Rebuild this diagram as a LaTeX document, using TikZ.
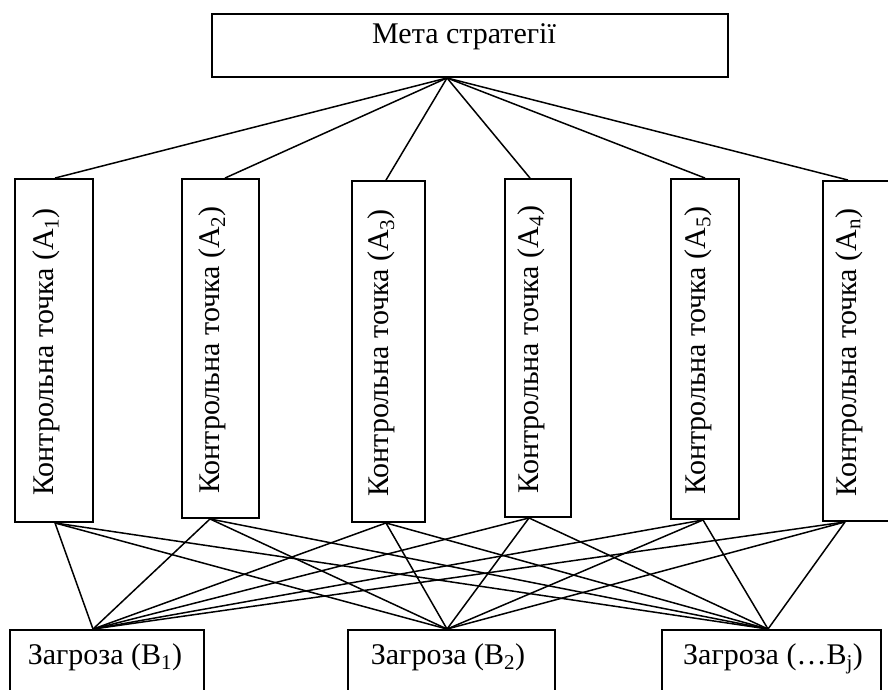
\documentclass[tikz,border=0pt]{standalone}
\usepackage{fontspec}
\setmainfont{Liberation Serif}
\begin{document}
\begin{tikzpicture}[x=1pt,y=-1pt,
  box/.style={draw, line width=1.9pt, inner sep=0pt},
  lbl/.style={font=\fontsize{30}{36}\selectfont, inner sep=0pt},
  conn/.style={line width=1.5pt}]
\useasboundingbox (0,0) rectangle (888,689);
\clip (0,0) rectangle (888,689);
% top box
\node[box, minimum width=516pt, minimum height=63pt] (Top) at (470,45.5) {};
\node[lbl, anchor=base] (TopT) at (464,43) {Мета стратегії};
% control points
\node[box, minimum width=78pt, minimum height=343pt] (A1) at (54,350.5) {};
\node[box, minimum width=77pt, minimum height=339pt] (A2) at (220.5,348.5) {};
\node[box, minimum width=73pt, minimum height=341pt] (A3) at (388.5,351.5) {};
\node[box, minimum width=66pt, minimum height=338pt] (A4) at (538,348) {};
\node[box, minimum width=68pt, minimum height=340pt] (A5) at (705,349) {};
\node[box, minimum width=69pt, minimum height=340pt] (An) at (857.5,351) {};
\node[lbl, rotate=90] (A1t) at ([xshift=-8pt,yshift=-1.5pt]A1.center) {Контрольна точка (A\textsubscript{1})};
\node[lbl, rotate=90] (A2t) at ([xshift=-8pt,yshift=-1.5pt]A2.center) {Контрольна точка (A\textsubscript{2})};
\node[lbl, rotate=90] (A3t) at ([xshift=-7pt,yshift=-1.5pt]A3.center) {Контрольна точка (A\textsubscript{3})};
\node[lbl, rotate=90] (A4t) at ([xshift=-7pt,yshift=-1.5pt]A4.center) {Контрольна точка (A\textsubscript{4})};
\node[lbl, rotate=90] (A5t) at ([xshift=-7pt,yshift=-1.5pt]A5.center) {Контрольна точка (A\textsubscript{5})};
\node[lbl, rotate=90] (Ant) at ([xshift=-8pt,yshift=-1.5pt]An.center) {Контрольна точка (A\textsubscript{n})};
% threats
\node[box, minimum width=194pt, minimum height=80pt] (B1) at (107,670) {};
\node[box, minimum width=207pt, minimum height=80pt] (B2) at (451.5,670) {};
\node[box, minimum width=219pt, minimum height=80pt] (Bj) at (771.5,670) {};
\node[lbl, anchor=base] (B1t) at (105,664) {Загроза (B\textsubscript{1})};
\node[lbl, anchor=base] (B2t) at (448,664) {Загроза (B\textsubscript{2})};
\node[lbl, anchor=base] (Bjt) at (773,664) {Загроза (…B\textsubscript{j})};
% top connectors
\foreach \a/\s in {A1/1,A2/4.5,A3/-2.5,A4/-8,A5/0,An/-9.5}
  \draw[conn] ([xshift=-23pt]Top.south) -- ([xshift=\s pt]\a.north);
% bottom connectors
\foreach \a/\s in {A1/1,A2/-10.5,A3/-2.5,A4/-9,A5/-2,An/-12.5}
  \foreach \b/\t in {B1/-14,B2/-4.5,Bj/-3.5}
    \draw[conn] ([xshift=\s pt]\a.south) -- ([xshift=\t pt]\b.north);
\end{tikzpicture}
\end{document}
